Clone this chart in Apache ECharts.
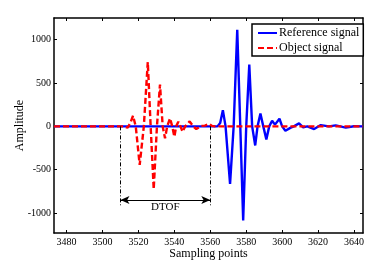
<!DOCTYPE html>
<html>
<head>
<meta charset="utf-8">
<script src="https://cdn.jsdelivr.net/npm/echarts@6/dist/echarts.min.js"></script>
<style>html,body{margin:0;padding:0;background:#fff}#c{width:390px;height:266px}</style>
</head>
<body>
<div id="c"></div>
<script>
// ---- data ----
var refX = [3473, 3564, 3565.5, 3567, 3568.5, 3571, 3573, 3575, 3576.7, 3578.3, 3580, 3581.7, 3583.3, 3585, 3586.3, 3587.9, 3589.5, 3591.2, 3592.8, 3594.4, 3596, 3598.5, 3600, 3601.8, 3604.8, 3606.5, 3609.4, 3611.7, 3614, 3617.8, 3621.5, 3626, 3629.8, 3635.4, 3640, 3645];
var refY = [0, 0, 40, 187, 0, -663, 0, 1115, 0, -1085, 0, 713, 0, -220, 0, 148, 0, -150, 0, 65, 20, 88, 0, -50, -15, 0, 34, -12, 0, -31, 15, 0, 12, -14, 2, 0];
var objX = [3473, 3512, 3514, 3515.5, 3517, 3518.5, 3520.7, 3523, 3525.2, 3526.8, 3528.5, 3530.3, 3532, 3533.5, 3534.8, 3536, 3537.6, 3538.8, 3540, 3541, 3542.2, 3543.4, 3544.6, 3546, 3548.5, 3550.5, 3552.2, 3555, 3557, 3559.4, 3561, 3562.5, 3645];
var objY = [0, 0, -15, 40, 122, 0, -445, 0, 742, 0, -725, 0, 483, 0, -138, 0, 92, 0, -119, 0, 53, 0, -62, 0, 58, 0, -30, 5, 8, 28, 5, 0, 0];
var xTicks = [3480, 3500, 3520, 3540, 3560, 3580, 3600, 3620, 3640];
var yTicks = [-1000, -500, 0, 500, 1000];
var seriesNames = ['Reference signal', 'Object signal'];
var dtofStart = 3510, dtofEnd = 3560, dtofArrowLevel = -850, dtofGuideBottom = -910;
var dtofLabel = 'DTOF', dtofLabelPos = [3535, -935];
var xName = 'Sampling points', yName = 'Amplitude';

function pairs(xs, ys) { return xs.map(function (x, i) { return [x, ys[i]]; }); }
function plain(v) { return String(v); }

var FONT = "'Liberation Serif','Times New Roman',serif";
var xMin = 3473, xMax = 3645, yMin = -1230, yMax = 1250;

var chart = echarts.init(document.getElementById('c'), null, {renderer: 'canvas'});
var axisLine = {show: true, onZero: false, lineStyle: {color: '#000', width: 1.5}};
chart.setOption({
  animation: false,
  backgroundColor: '#fff',
  grid: {left: 54, right: 27, top: 18, bottom: 33},
  legend: {
    data: seriesNames,
    orient: 'vertical',
    left: 252, top: 24,
    padding: [3, 4, 2, 5],
    itemWidth: 19, itemHeight: 12, itemGap: 3,
    itemStyle: {opacity: 0},
    backgroundColor: '#fff',
    borderColor: '#000', borderWidth: 1.5, borderRadius: 0,
    textStyle: {fontFamily: FONT, fontSize: 12, color: '#000', padding: [0, 0, 0, -3]}
  },
  xAxis: [{
    type: 'value', min: xMin, max: xMax, position: 'bottom',
    name: xName, nameLocation: 'middle', nameGap: 15, nameMoveOverlap: false,
    nameTextStyle: {fontFamily: FONT, fontSize: 12, color: '#000'},
    axisLine: axisLine,
    axisTick: {show: true, inside: true, length: 3, customValues: xTicks, lineStyle: {color: '#000'}},
    axisLabel: {show: true, customValues: xTicks, formatter: plain, fontFamily: FONT, fontSize: 10, color: '#000', margin: 4},
    splitLine: {show: false}
  }, {
    type: 'value', min: xMin, max: xMax, position: 'top',
    axisLine: axisLine,
    axisTick: {show: true, inside: true, length: 3, customValues: xTicks, lineStyle: {color: '#000'}},
    axisLabel: {show: false},
    splitLine: {show: false}
  }],
  yAxis: [{
    type: 'value', min: yMin, max: yMax, position: 'left',
    name: yName, nameLocation: 'middle', nameGap: 28, nameMoveOverlap: false,
    nameTextStyle: {fontFamily: FONT, fontSize: 12, color: '#000'},
    axisLine: axisLine,
    axisTick: {show: true, inside: true, length: 3, customValues: yTicks, lineStyle: {color: '#000'}},
    axisLabel: {show: true, customValues: yTicks, formatter: plain, fontFamily: FONT, fontSize: 10, color: '#000', margin: 3},
    splitLine: {show: false}
  }, {
    type: 'value', min: yMin, max: yMax, position: 'right',
    axisLine: axisLine,
    axisTick: {show: true, inside: true, length: 3, customValues: yTicks, lineStyle: {color: '#000'}},
    axisLabel: {show: false},
    splitLine: {show: false}
  }],
  series: [{
    name: seriesNames[0], type: 'line', showSymbol: false, symbol: 'none',
    data: pairs(refX, refY),
    lineStyle: {color: '#0000ff', width: 2.4},
    itemStyle: {color: '#0000ff'},
    z: 2
  }, {
    name: seriesNames[1], type: 'line', showSymbol: false, symbol: 'none',
    data: pairs(objX, objY),
    lineStyle: {color: '#ff0000', width: 2.4, type: [6, 3]},
    itemStyle: {color: '#ff0000'},
    z: 3
  }, {
    name: 'dtof', type: 'line', data: [], silent: true, z: 4,
    markLine: {
      silent: true, animation: false,
      label: {show: false},
      emphasis: {disabled: true},
      data: [
        [{coord: [dtofStart, 0], symbol: 'none', lineStyle: {color: '#000', width: 1, type: [4, 2, 1, 2]}},
         {coord: [dtofStart, dtofGuideBottom], symbol: 'none'}],
        [{coord: [dtofEnd, 0], symbol: 'none', lineStyle: {color: '#000', width: 1, type: [4, 2, 1, 2]}},
         {coord: [dtofEnd, dtofGuideBottom], symbol: 'none'}],
        [{coord: [dtofStart, dtofArrowLevel], symbol: 'arrow', symbolSize: [6, 9], lineStyle: {color: '#000', width: 1, type: 'solid'}},
         {coord: [dtofEnd, dtofArrowLevel], symbol: 'arrow', symbolSize: [6, 9]}]
      ]
    },
    markPoint: {
      silent: true, symbol: 'circle', symbolSize: 1,
      itemStyle: {color: 'rgba(0,0,0,0)'},
      label: {show: true, position: 'inside', formatter: dtofLabel, fontFamily: FONT, fontSize: 11, color: '#000'},
      data: [{coord: dtofLabelPos}]
    }
  }]
});
</script>
</body>
</html>
